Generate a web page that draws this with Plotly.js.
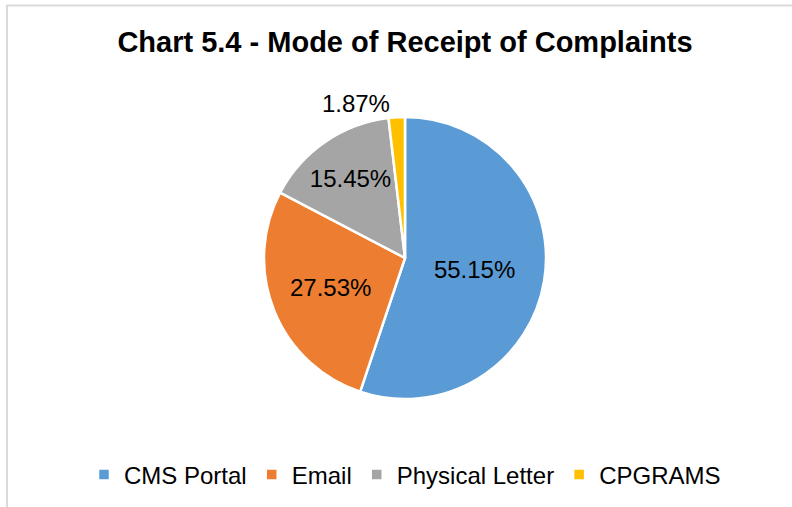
<!DOCTYPE html>
<html>
<head>
<meta charset="utf-8">
<script src="https://cdn.plot.ly/plotly-3.0.1.min.js"></script>
<style>html,body{margin:0;padding:0;background:#fff;}#chart{width:792px;height:507px;}</style>
</head>
<body>
<div id="chart"></div>
<script>
const categories = ["CMS Portal", "Email", "Physical Letter", "CPGRAMS"];
const shares = [55.15, 27.53, 15.45, 1.87];
const sliceColors = ["#5B9BD5", "#ED7D31", "#A5A5A5", "#FFC000"];
const labelPositions = ["inside", "inside", "inside", "outside"];

const W = 792, H = 507;
const cx = 405, cy = 258, r = 141;
const FONT = "Liberation Sans, Arial, sans-serif";

const trace = {
  type: "pie",
  labels: categories,
  values: shares,
  sort: false,
  direction: "clockwise",
  rotation: 0,
  marker: { colors: sliceColors, line: { color: "#ffffff", width: 2.5 } },
  texttemplate: "%{percent:.2%}",
  textposition: labelPositions,
  insidetextorientation: "horizontal",
  textfont: { family: FONT, size: 24, color: "#000000" },
  outsidetextfont: { family: FONT, size: 24, color: "#000000" },
  hoverinfo: "label+percent",
  domain: { x: [(cx - r) / W, (cx + r) / W], y: [(H - cy - r) / H, (H - cy + r) / H] }
};

const layout = {
  width: W, height: H,
  margin: { l: 0, r: 0, t: 0, b: 0 },
  paper_bgcolor: "#ffffff",
  font: { family: FONT, color: "#000000" },
  title: {
    text: "<b>Chart 5.4 - Mode of Receipt of Complaints</b>",
    font: { family: FONT, size: 29, color: "#000000" },
    x: cx / W, xanchor: "center", xref: "container",
    y: 1 - 42 / H, yanchor: "middle", yref: "container"
  },
  showlegend: true,
  legend: {
    orientation: "h", x: 0.5 + 9 / W, xanchor: "center", y: 1 - 475 / H, yanchor: "middle",
    font: { family: FONT, size: 24, color: "#000000" },
    traceorder: "normal"
  },
  shapes: [
    { type: "line", xref: "paper", yref: "paper", x0: 6 / W, x1: 1, y0: 1 - 5.5 / H, y1: 1 - 5.5 / H, line: { color: "#d9d9d9", width: 2 } },
    { type: "line", xref: "paper", yref: "paper", x0: 7 / W, x1: 7 / W, y0: 0, y1: 1 - 5 / H, line: { color: "#d9d9d9", width: 2 } }
  ]
};

Plotly.newPlot("chart", [trace], layout, { displayModeBar: false, staticPlot: true });
</script>
</body>
</html>
